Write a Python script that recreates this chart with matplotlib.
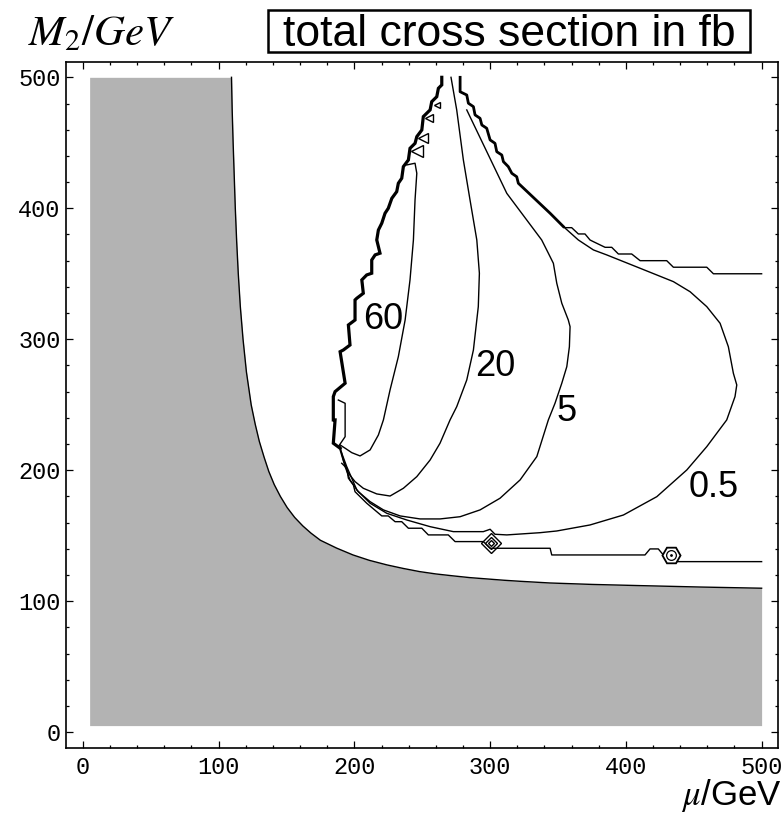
import numpy as np
import matplotlib.pyplot as plt
from matplotlib.patches import Rectangle
from matplotlib.ticker import MultipleLocator

plt.rcParams['mathtext.fontset'] = 'stix'

# boundary of the excluded (shaded) region, mu vs M2 in GeV
bound_mu = [109.5, 110, 110.7, 111.5, 112.3, 113.3, 114.5, 116, 118, 120.5, 124,
            127, 130, 133.5, 137, 141, 145.5, 150.5, 156, 162, 168, 175,
            187, 199, 211, 224, 236, 248, 260, 273, 285, 297.5, 310, 322, 344,
            375, 410, 455, 500]
bound_m2 = [500, 475, 450, 425, 400, 375, 350, 325, 300, 275, 250,
            235, 222, 210, 199, 189, 180, 171.5, 164, 157.5, 152, 146.5,
            140.5, 135.3, 131.2, 127.7, 125, 122.6, 120.8, 119.3, 118, 117, 116, 115.2, 113.9,
            112.8, 111.9, 110.8, 109.9]

# jagged threshold edge on the left, where all levels pile up
edge_mu = [264.4, 264.4, 261.9, 260.7, 257, 255.8, 250.8, 249.7, 246, 244.7, 241,
           239.8, 236.1, 234.9, 232.4, 231.2, 227.6, 225, 222.6, 220.2, 217.7, 216.5,
           218.9, 215.3, 212.8, 212.8, 209.1, 205.5, 206.6, 201.8, 200.5, 200.5, 195.6,
           196.8, 191.9, 189.5, 193.2, 185.8, 184.5, 184.5, 185.8, 184.5, 189.5]
edge_m2 = [500, 494.2, 491.6, 485.2, 481.4, 475.1, 470, 459.8, 454.7, 449.6, 445.8,
           436.9, 431.8, 422.9, 419.1, 412.7, 407.6, 400, 396.2, 388.6, 383.4, 375.8,
           365.7, 364.4, 360.5, 350.4, 349.1, 345.3, 335.1, 331.3, 330, 314.7, 310.9,
           295.6, 291.8, 290.5, 266.4, 260, 256.2, 238.4, 238.4, 220.6, 216.8]
loop_mu = [188.2, 193.2, 193.2, 188.2]
loop_m2 = [253.6, 251.1, 225.6, 218]

# jagged edge on the upper right
redge_mu = [277.9, 277.9, 282.8, 284, 287.7, 288.9, 292.6, 293.9, 297.5, 300, 303.6,
            304.9, 308.6, 309.8, 313.4, 316, 319.6, 320.8, 344.2, 354]
redge_m2 = [500, 489, 486.5, 480.2, 477.6, 471.3, 468.7, 463.6, 461.1, 452.2, 449.6,
            443.2, 440.7, 435.6, 431.8, 426.7, 424.1, 419.1, 396.2, 386]

# contour 60 fb
c60_mu = [238.6, 244.7, 246, 244.7, 243.5, 241, 237.4, 232.4, 226.3, 221.4, 217.7,
          211.6, 204.2, 198.1, 193.2, 189.5]
c60_m2 = [433.1, 434.4, 426.7, 406.4, 375.8, 345.3, 314.7, 286.7, 261.3, 238.4, 226.9,
          215.5, 210.9, 213.4, 216.8, 219.3]

# contour 20 fb
c20_mu = [271.2, 275.4, 280.3, 285.2, 290.2, 292.1, 291.3, 287.7, 282.8, 275.4, 270.5,
          263.1, 255.8, 246, 236.1, 226.3, 216.5, 206.6, 200.5, 195.6, 191.9, 189.5]
c20_m2 = [500, 475.1, 436.9, 406.4, 375.8, 350.4, 324.9, 291.8, 268.9, 248.5, 238.4,
          220.6, 207.8, 195.1, 186.2, 180.3, 181.9, 186.2, 191.3, 197.7, 207.8, 218]

# contour 5 fb
c5_mu = [282.8, 312.3, 338, 342.9, 346.6, 349.1, 352.8, 357.6, 358.9, 358.4, 356.5,
         352.8, 347.8, 342.9, 334.4, 322.1, 307.3, 292.6, 277.9, 263.1, 248.4, 233.7,
         221.4, 211.6, 202.9, 196.8, 193.2, 189.5]
c5_m2 = [475.1, 411.4, 375.8, 365.7, 358, 342.8, 327.5, 314.7, 309.6, 294.3, 279.1,
         266.4, 251.1, 238.4, 210.4, 192.6, 178.6, 169.7, 164.5, 162.8, 162.8, 165.1,
         169.7, 176, 183.6, 192.6, 202.7, 215.5]

# contour 0.5 fb
c05_mu = [354, 365, 376.1, 385.9, 410.5, 435, 447.3, 459.6, 469.4, 475.5, 479.2,
          481.7, 480.4, 474.3, 459.6, 444.9, 422.8, 398.2, 373.6, 349.1, 336.8, 312.3,
          303.6, 300, 295, 272.9, 255.8, 238.6, 223.9, 211.6, 201.8, 198.1, 194.4, 190.7]
c05_m2 = [386, 375.8, 368.2, 364.4, 354.2, 344, 336.3, 324.9, 312.2, 294.3, 274,
          265.1, 256.2, 238.4, 218, 200.2, 179.8, 165.8, 158.2, 153.6, 152.3, 150.6,
          151.1, 154.9, 153.1, 153.1, 156.9, 162, 167.1, 174.8, 184.9, 193.9, 202.7, 213]

# stepped lines near threshold
s350_mu = [354, 355.2, 360.1, 365, 369.9, 373.6, 376.1, 384.7, 389.6, 394.5, 404.3,
           410.5, 430.1, 435, 459.6, 464.5, 500]
s350_m2 = [386, 385.2, 385.2, 380.4, 380.4, 375.8, 374.5, 370.2, 370.2, 365.1, 365.1,
           360, 360, 355, 355, 350, 350]
s130_mu = [190.7, 194.4, 195.6, 199.3, 200.5, 209.1, 220.2, 225, 230, 234.9, 239.8,
           249.7, 254.5, 269.2, 274.2, 295, 300, 344.2, 345.4, 414.1, 417.8, 423.9,
           427.6, 435, 500]
s130_m2 = [205.3, 201.5, 193.9, 188.7, 183.6, 174.8, 165.1, 165.1, 160.7, 160.7, 155.7,
           155.7, 150.6, 150.6, 145.5, 145.5, 140.4, 140.4, 135.3, 135.3, 139.9, 139.9,
           135.3, 130.2, 130.2]

# small closed islands
tri_mu = [260.7, 255.3, 250.8, 246]
tri_m2 = [478.9, 468.7, 453.5, 444]
tri_ms = [4, 6, 7, 8]
dia_mu, dia_m2 = 300.6, 144.8
hex_mu, hex_m2 = 433, 135.3

labels = ['60', '20', '5', '0.5']
label_mu = [221, 303.6, 356, 464.5]
label_m2 = [315, 279.1, 244.5, 186.8]

fig = plt.figure(figsize=(7.84, 8.19), dpi=100)
ax = fig.add_axes([0.0842, 0.0867, 0.9082, 0.8376])

fill_mu = [5] + bound_mu
fill_m2 = [500] + bound_m2
ax.fill_between(fill_mu, 5, fill_m2, color='#b3b3b3', lw=0)
ax.plot(bound_mu, bound_m2, color='k', lw=1.0)

kw = dict(color='k', lw=1.0)
ax.plot(edge_mu, edge_m2, color='k', lw=2.3, solid_joinstyle='miter')
ax.plot(loop_mu, loop_m2, **kw)
ax.plot(redge_mu, redge_m2, color='k', lw=2.0)
for xs, ys in [(c60_mu, c60_m2), (c20_mu, c20_m2), (c5_mu, c5_m2),
               (c05_mu, c05_m2), (s350_mu, s350_m2), (s130_mu, s130_m2)]:
    ax.plot(xs, ys, **kw)

for x, y, ms in zip(tri_mu, tri_m2, tri_ms):
    ax.plot(x, y, marker='<', ms=ms, mfc='white', mec='k', mew=1.0)
for ms in [10, 6.5, 3]:
    ax.plot(dia_mu, dia_m2, marker='D', ms=ms, mfc='none', mec='k', mew=1.0)
ax.plot(hex_mu, hex_m2, marker='H', ms=13, mfc='white', mec='k', mew=1.3)
ax.plot(hex_mu, hex_m2, marker='o', ms=7, mfc='none', mec='k', mew=0.9)
ax.plot(hex_mu, hex_m2, marker='.', ms=2, color='k')

for t, x, y in zip(labels, label_mu, label_m2):
    ax.text(x, y, t, fontsize=26, family='Liberation Sans', ha='center', va='center')

ax.set_xlim(-12.4, 512.1)
ax.set_ylim(-12.1, 511.7)
ax.xaxis.set_major_locator(MultipleLocator(100))
ax.yaxis.set_major_locator(MultipleLocator(100))
ax.xaxis.set_minor_locator(MultipleLocator(20))
ax.yaxis.set_minor_locator(MultipleLocator(20))
ax.tick_params(which='both', direction='in', top=True, right=True, width=0.9,
               labelsize=17, labelfontfamily='Liberation Mono')
ax.tick_params(which='major', length=5)
ax.tick_params(which='minor', length=2.5)
ax.tick_params(axis='x', pad=6)
ax.tick_params(axis='y', pad=4)
for s in ax.spines.values():
    s.set_linewidth(1.2)

fig.text(28 / 784, 1 - 33 / 819, r'$M_2/GeV$', fontsize=31, va='center', ha='left')
fig.text(781 / 784, 1 - 805 / 819, r'$\mu$/GeV', fontsize=25, va='baseline', ha='right',
         family='Liberation Sans')

# boxed title
fig.patches.append(Rectangle((268 / 784, 1 - 52 / 819), 482 / 784, 42 / 819,
                             transform=fig.transFigure, fc='white', ec='k', lw=1.8))
fig.text(509 / 784, 1 - 46 / 819, 'total cross section in fb', fontsize=32,
         family='Liberation Sans', ha='center', va='baseline')

fig.savefig('out.png', dpi=100)
